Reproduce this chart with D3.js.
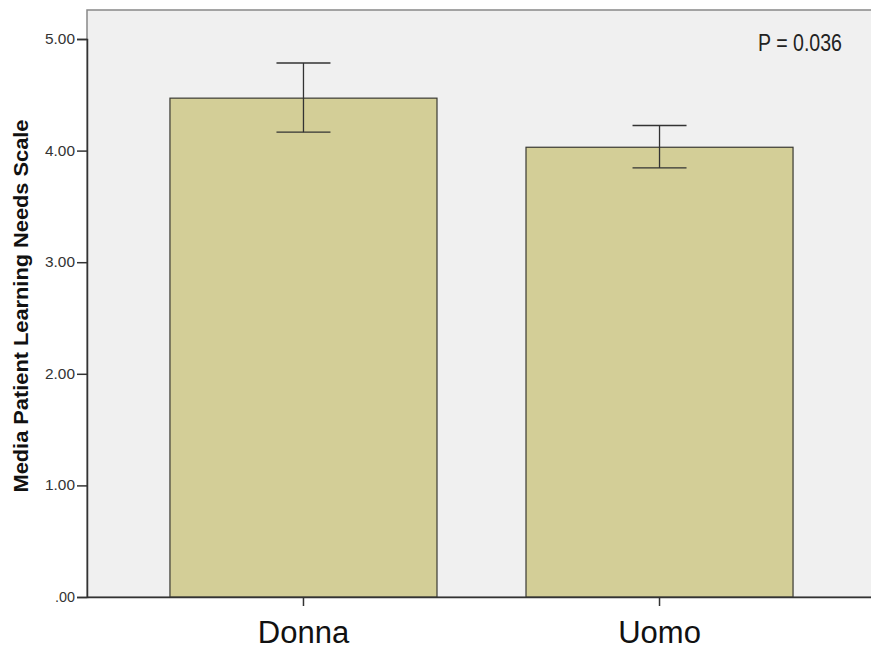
<!DOCTYPE html>
<html>
<head>
<meta charset="utf-8">
<script src="https://cdn.jsdelivr.net/npm/d3@7"></script>
<style>
  body { margin: 0; background: #fff; }
  svg { display: block; font-family: Arial, "Liberation Sans", sans-serif; }
</style>
</head>
<body>
<svg id="chart"></svg>
<script>
// Data
const categories = ["Donna", "Uomo"];
const means = [4.47, 4.03];
const ciLow = [4.165, 3.845];
const ciHigh = [4.785, 4.225];
const yTicks = [0, 1, 2, 3, 4, 5];
const pLabel = "P = 0.036";

const W = 871, H = 651;
const plot = { left: 87, top: 10, right: 876, bottom: 597 };

const svg = d3.select("#chart").attr("width", W).attr("height", H);

// Scales
const x = d3.scaleBand()
    .domain(categories)
    .range([plot.left, plot.right])
    .paddingInner(0.25)
    .paddingOuter(0.233);

const y = d3.scaleLinear()
    .domain([0, 5])
    .range([plot.bottom, plot.bottom - 5 * 111.6]);

// Plot background
svg.append("rect")
    .attr("x", plot.left)
    .attr("y", plot.top)
    .attr("width", plot.right - plot.left)
    .attr("height", plot.bottom - plot.top)
    .attr("fill", "#f0f0f0")
    .attr("stroke", "#888")
    .attr("stroke-width", 1.5);

// Bars
svg.selectAll("rect.bar")
    .data(categories)
    .enter()
    .append("rect")
    .attr("class", "bar")
    .attr("x", d => x(d))
    .attr("y", (d, i) => y(means[i]))
    .attr("width", x.bandwidth())
    .attr("height", (d, i) => y(0) - y(means[i]))
    .attr("fill", "#d3ce97")
    .attr("stroke", "#3a3a33")
    .attr("stroke-width", 1.2);

// Error bars
const capHalf = 27;
const err = svg.append("g")
    .attr("stroke", "#333")
    .attr("stroke-width", 1.3);

categories.forEach((c, i) => {
    const cx = x(c) + x.bandwidth() / 2;
    err.append("line")
        .attr("x1", cx).attr("x2", cx)
        .attr("y1", y(ciHigh[i])).attr("y2", y(ciLow[i]));
    err.append("line")
        .attr("x1", cx - capHalf).attr("x2", cx + capHalf)
        .attr("y1", y(ciHigh[i])).attr("y2", y(ciHigh[i]));
    err.append("line")
        .attr("x1", cx - capHalf).attr("x2", cx + capHalf)
        .attr("y1", y(ciLow[i])).attr("y2", y(ciLow[i]));
});

// Y axis
const yAxis = svg.append("g")
    .attr("transform", `translate(${plot.left},0)`)
    .call(d3.axisLeft(y)
        .tickValues(yTicks)
        .tickSize(10)
        .tickPadding(2)
        .tickFormat(d => d3.format(".2f")(d).replace(/^0/, "")))
    .attr("font-size", 14)
    .attr("font-family", null);

yAxis.select(".domain").attr("stroke", "#333").attr("stroke-width", 1.5);
yAxis.selectAll(".tick line").attr("stroke", "#333").attr("stroke-width", 1.5);
yAxis.selectAll(".tick text")
    .attr("fill", "#333")
    .attr("textLength", d => d === 0 ? 20 : 30)
    .attr("lengthAdjust", "spacingAndGlyphs");

// X axis
const xAxis = svg.append("g")
    .attr("transform", `translate(0,${plot.bottom})`)
    .call(d3.axisBottom(x).tickSize(9).tickSizeOuter(0))
    .attr("font-size", 31)
    .attr("font-family", null);

xAxis.select(".domain").attr("stroke", "#333").attr("stroke-width", 1.5);
xAxis.selectAll(".tick line").attr("stroke", "#333").attr("stroke-width", 1.5);
xAxis.selectAll(".tick text")
    .attr("fill", "#111")
    .attr("y", 46)
    .attr("dy", null);

// Y axis title
svg.append("text")
    .attr("transform", `translate(28,306) rotate(-90)`)
    .attr("text-anchor", "middle")
    .attr("textLength", 373)
    .attr("lengthAdjust", "spacingAndGlyphs")
    .style("font-size", "20px")
    .style("font-weight", "bold")
    .attr("fill", "#111")
    .text("Media Patient Learning Needs Scale");

// P value annotation
svg.append("text")
    .attr("x", 758)
    .attr("y", 51)
    .attr("textLength", 84)
    .attr("lengthAdjust", "spacingAndGlyphs")
    .style("font-size", "23px")
    .attr("fill", "#222")
    .text(pLabel);
</script>
</body>
</html>
